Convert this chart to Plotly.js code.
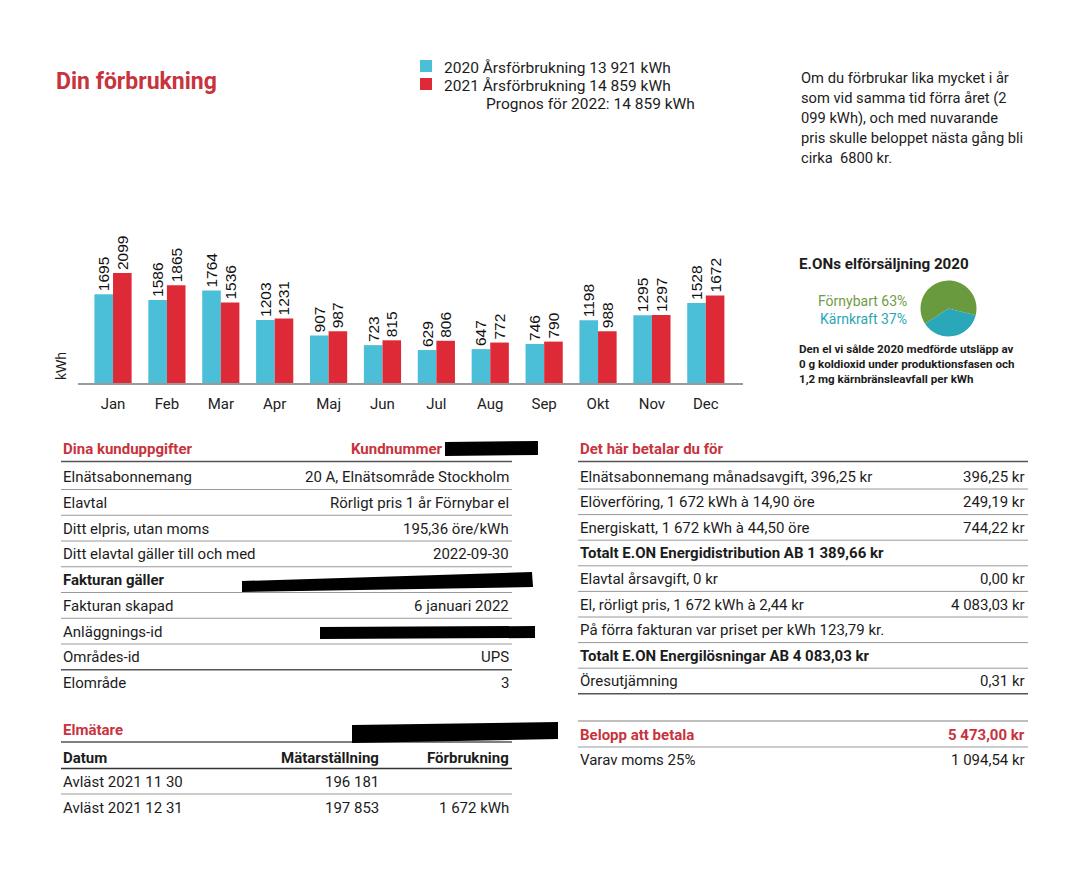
<!DOCTYPE html>
<html>
<head>
<meta charset="utf-8">
<script src="https://cdn.plot.ly/plotly-3.0.1.min.js"></script>
<style>html,body{margin:0;padding:0;background:#fff;}#chart{width:1080px;height:888px;}</style>
</head>
<body>
<div id="chart"></div>
<script>
// ---------- DATA ----------
const months = ['Jan','Feb','Mar','Apr','Maj','Jun','Jul','Aug','Sep','Okt','Nov','Dec'];
const usage2020 = [1695,1586,1764,1203,907,723,629,647,746,1198,1295,1528];
const usage2021 = [2099,1865,1536,1231,987,815,806,772,790,988,1297,1672];
const seriesNames = ['2020 Årsförbrukning 13 921 kWh','2021 Årsförbrukning 14 859 kWh'];
const forecastText = 'Prognos för 2022: 14 859 kWh';

const mixLabels = ['Förnybart','Kärnkraft'];
const mixShares = [63, 37];

const infoLines = ['Om du förbrukar lika mycket i år','som vid samma tid förra året (2','099 kWh), och med nuvarande','pris skulle beloppet nästa gång bli','cirka  6800 kr.'];
const mixNoteLines = ['Den el vi sålde 2020 medförde utsläpp av','0 g koldioxid under produktionsfasen och','1,2 mg kärnbränsleavfall per kWh'];

const customerLabels = ['Elnätsabonnemang','Elavtal','Ditt elpris, utan moms','Ditt elavtal gäller till och med','Fakturan gäller','Fakturan skapad','Anläggnings-id','Områdes-id','Elområde'];
const customerValues = ['20 A, Elnätsområde Stockholm','Rörligt pris 1 år Förnybar el','195,36 öre/kWh','2022-09-30','','6 januari 2022','','UPS','3'];
const customerBold = [false,false,false,false,true,false,false,false,false];

const paymentLabels = ['Elnätsabonnemang månadsavgift, 396,25 kr','Elöverföring, 1 672 kWh à 14,90 öre','Energiskatt, 1 672 kWh à 44,50 öre','Totalt E.ON Energidistribution AB 1 389,66 kr','Elavtal årsavgift, 0 kr','El, rörligt pris, 1 672 kWh à 2,44 kr','På förra fakturan var priset per kWh 123,79 kr.','Totalt E.ON Energilösningar AB 4 083,03 kr','Öresutjämning'];
const paymentAmounts = ['396,25 kr','249,19 kr','744,22 kr','','0,00 kr','4 083,03 kr','','','0,31 kr'];
const paymentBold = [false,false,false,true,false,false,false,true,false];
const totalLabel = 'Belopp att betala', totalAmount = '5 473,00 kr';
const vatLabel = 'Varav moms 25%', vatAmount = '1 094,54 kr';

const meterHeaders = ['Datum','Mätarställning','Förbrukning'];
const meterDates = ['Avläst 2021 11 30','Avläst 2021 12 31'];
const meterReadings = ['196 181','197 853'];
const meterUsage = ['','1 672 kWh'];

// ---------- STYLE / LAYOUT HELPERS ----------
const W = 1080, H = 888;
const X = x => x / W, Y = y => 1 - y / H;
const BLUE = '#4bbfd8', RED = '#de2a37', TITLERED = '#c8333d', INK = '#1c1c1c';
const FONT = 'Roboto, Lato, sans-serif';
const TS = 15; // table font size
const ann = [];
const shp = [];
function txt(x, y, text, o) {
  o = o || {};
  ann.push({xref:'paper', yref:'paper', x:X(x), y:Y(y), text: o.bold ? '<b>'+text+'</b>' : text,
    showarrow:false, xanchor:o.anchor||'left', yanchor:'middle', align:o.anchor||'left',
    textangle:o.angle||0,
    font:{family:o.family||FONT, size:o.size||14, color:o.color||INK}});
}
function hline(x0, x1, y, color, width) {
  shp.push({type:'line', xref:'paper', yref:'paper', x0:X(x0), x1:X(x1), y0:Y(y), y1:Y(y),
    line:{color:color||'#8c8c8c', width:width||1}});
}
function box(x0, y0, x1, y1, color) {
  shp.push({type:'rect', xref:'paper', yref:'paper', x0:X(x0), x1:X(x1), y0:Y(y0), y1:Y(y1),
    fillcolor:color, line:{width:0}});
}
function blot(pts) {
  const d = 'M' + pts.map(p => X(p[0]) + ',' + Y(p[1])).join(' L') + ' Z';
  shp.push({type:'path', xref:'paper', yref:'paper', path:d, fillcolor:'#000', line:{color:'#000', width:0}});
}

// ---------- HEADER TEXTS ----------
txt(54, 81, 'Din förbrukning', {bold:true, size:23, color:TITLERED});
// legend (key squares + labels)
[BLUE, RED].forEach((c, i) => {
  box(420, 60 + i * 18, 432, 72 + i * 18, c);
  txt(442, 68 + i * 18, seriesNames[i], {size:15.5});
});
txt(484, 104, forecastText, {size:15.5});
infoLines.forEach((l, i) => txt(799, 78 + i * 20, l, {size:14.7}));
txt(797, 264, 'E.ONs elförsäljning 2020', {bold:true, size:15.2});
txt(909, 301, mixLabels[0] + ' ' + mixShares[0] + '%', {anchor:'right', size:14, color:'#6f9d47'});
txt(909, 319, mixLabels[1] + ' ' + mixShares[1] + '%', {anchor:'right', size:14, color:'#2aa6b7'});
mixNoteLines.forEach((l, i) => txt(797, 349 + i * 15, l, {bold:true, size:11.6}));
txt(61, 366, 'kWh', {angle:-90, anchor:'center', size:14, family:'Liberation Sans, Arial, sans-serif'});

// ---------- LEFT TABLE ----------
txt(61, 449, 'Dina kunduppgifter', {bold:true, size:TS, color:TITLERED});
txt(445, 449, 'Kundnummer', {bold:true, size:TS, color:TITLERED, anchor:'right'});
hline(61, 512, 461.5, '#555', 1.5);
customerLabels.forEach((lab, i) => {
  const y = 477 + i * 25.75;
  txt(61, y, lab, {bold:customerBold[i], size:TS});
  if (customerValues[i]) txt(511, y, customerValues[i], {anchor:'right', size:TS});
  if (i < customerLabels.length - 1) hline(61, 512, y + 12.5, i === 7 ? '#555' : '#999', i === 7 ? 1.5 : 1);
});
blot([[445,442],[538,441],[538,455],[445,456]]);
blot([[242,581],[532,572],[533,587],[242,592]]);
blot([[320,627],[535,626],[535,638],[320,639]]);

// ---------- METER TABLE ----------
txt(61, 730, 'Elmätare', {bold:true, size:TS, color:TITLERED});
hline(61, 512, 742, '#555', 1.5);
txt(61, 757.5, meterHeaders[0], {bold:true, size:TS});
txt(381, 757.5, meterHeaders[1], {bold:true, size:TS, anchor:'right'});
txt(511, 757.5, meterHeaders[2], {bold:true, size:TS, anchor:'right'});
hline(61, 512, 768.5, '#333', 1.5);
meterDates.forEach((d, i) => {
  const y = 781.5 + i * 26;
  txt(61, y, d, {size:TS});
  txt(381, y, meterReadings[i], {size:TS, anchor:'right'});
  if (meterUsage[i]) txt(511, y, meterUsage[i], {size:TS, anchor:'right'});
});
hline(61, 512, 794, '#999', 1);
blot([[352,725],[558,722],[558,739],[352,743]]);

// ---------- RIGHT TABLE ----------
txt(578, 449, 'Det här betalar du för', {bold:true, size:TS, color:TITLERED});
hline(578, 1028, 461.5, '#555', 1.5);
paymentLabels.forEach((lab, i) => {
  const y = 476.5 + i * 25.6;
  txt(578, y, lab, {bold:paymentBold[i], size:TS});
  if (paymentAmounts[i]) txt(1027, y, paymentAmounts[i], {anchor:'right', size:TS});
  const last = i === paymentLabels.length - 1;
  hline(578, 1028, y + 12.5, last ? '#555' : '#999', last ? 1.5 : 1);
});
hline(578, 1028, 721, '#aaa', 1.5);
txt(578, 734.5, totalLabel, {bold:true, size:TS, color:TITLERED});
txt(1027, 734.5, totalAmount, {bold:true, size:TS, color:TITLERED, anchor:'right'});
hline(578, 1028, 747, '#999', 1);
txt(578, 759.5, vatLabel, {size:TS});
txt(1027, 759.5, vatAmount, {size:TS, anchor:'right'});

// ---------- TRACES ----------
const barText = {family:'Liberation Sans, Arial, sans-serif', size:15.5, color:'#111'};
const traces = [
  {type:'bar', name:seriesNames[0], x:months, y:usage2020, marker:{color:BLUE},
   text:usage2020.map(String), textposition:'outside', textangle:-90, textfont:barText,
   cliponaxis:false, constraintext:'none', hoverinfo:'x+y', showlegend:false},
  {type:'bar', name:seriesNames[1], x:months, y:usage2021, marker:{color:RED},
   text:usage2021.map(String), textposition:'outside', textangle:-90, textfont:barText,
   cliponaxis:false, constraintext:'none', hoverinfo:'x+y', showlegend:false},
  {type:'pie', labels:mixLabels, values:mixShares, sort:false, direction:'clockwise', rotation:237,
   marker:{colors:['#699a3d','#2aa8ba'], line:{width:0}}, textinfo:'none', hoverinfo:'label+percent',
   showlegend:false, domain:{x:[X(920.5), X(976.5)], y:[Y(336.5), Y(280.5)]}}
];

const layout = {
  width:W, height:H, autosize:false,
  margin:{l:0, r:0, t:0, b:0},
  paper_bgcolor:'#fff', plot_bgcolor:'rgba(0,0,0,0)',
  barmode:'group', bargap:0.31, bargroupgap:0,
  xaxis:{domain:[X(78), X(743)], range:[-0.65, 11.69], type:'category',
    showline:true, linecolor:'#9a9a9a', linewidth:2, ticks:'', showgrid:false, zeroline:false,
    tickfont:{family:FONT, size:15, color:'#222'}, ticklabelstandoff:6, fixedrange:true},
  yaxis:{domain:[Y(383), Y(233)], range:[0, 2863], visible:false, fixedrange:true},
  showlegend:false,
  annotations:ann, shapes:shp
};

Plotly.newPlot('chart', traces, layout, {displayModeBar:false, responsive:false});
</script>
</body>
</html>
